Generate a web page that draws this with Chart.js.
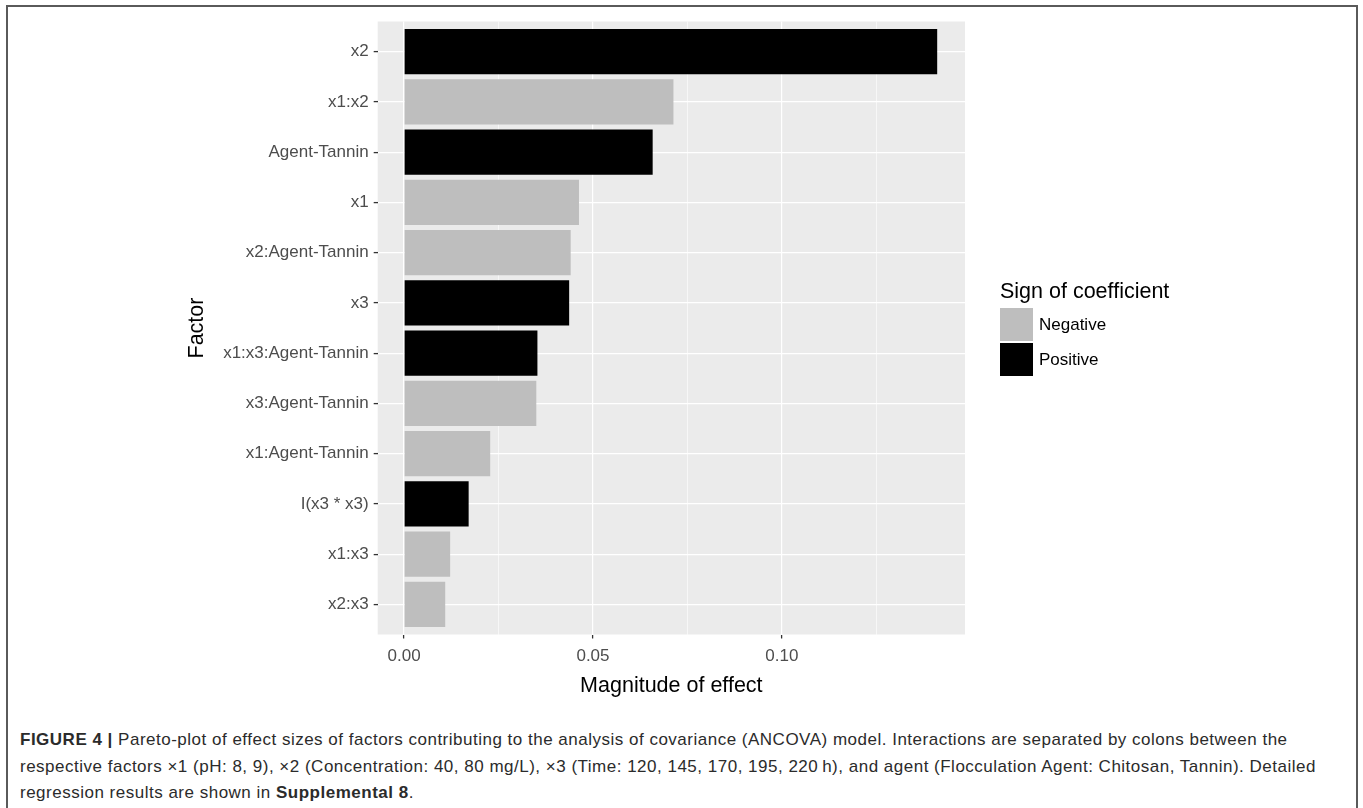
<!DOCTYPE html>
<html>
<head>
<meta charset="utf-8">
<script src="https://cdn.jsdelivr.net/npm/chart.js@4.4.1/dist/chart.umd.min.js"></script>
<style>
  body { margin: 0; background: #fff; }
  #wrap { position: relative; width: 1363px; height: 808px; overflow: hidden; }
  #frame {
    position: absolute; left: 6px; top: 5px; width: 1348px; height: 820px;
    border: 2px solid #5a5a5a; border-bottom: none;
  }
  #chart { position: absolute; left: 0; top: 0; }
  #caption {
    position: absolute; left: 20px; top: 727px;
    font-family: "Liberation Sans", Arial, sans-serif; font-size: 17px;
    letter-spacing: 0.5px; line-height: 26.5px; color: #2b2b2b; white-space: nowrap;
  }
</style>
</head>
<body>
<div id="wrap">
  <div id="frame"></div>
  <canvas id="chart" width="1363" height="710"></canvas>
  <div id="caption">
    <b>FIGURE 4 |</b> Pareto-plot of effect sizes of factors contributing to the analysis of covariance (ANCOVA) model. Interactions are separated by colons between the<br>
    respective factors ×1 (pH: 8, 9), ×2 (Concentration: 40, 80 mg/L), ×3 (Time: 120, 145, 170, 195, 220&thinsp;h), and agent (Flocculation Agent: Chitosan, Tannin). Detailed<br>
    regression results are shown in <b>Supplemental 8</b>.
  </div>
</div>
<script>
// datos del grafico
const factors = ['x2', 'x1:x2', 'Agent-Tannin', 'x1', 'x2:Agent-Tannin', 'x3',
  'x1:x3:Agent-Tannin', 'x3:Agent-Tannin', 'x1:Agent-Tannin', 'I(x3 * x3)', 'x1:x3', 'x2:x3'];
const magnitudes = [0.1411, 0.0713, 0.0658, 0.0463, 0.0441, 0.0437,
  0.0353, 0.0350, 0.0228, 0.0171, 0.0122, 0.0109];
const signs = ['Positive', 'Negative', 'Positive', 'Negative', 'Negative', 'Positive',
  'Positive', 'Negative', 'Negative', 'Positive', 'Negative', 'Negative'];
const signLevels = ['Negative', 'Positive'];
const signColors = ['#BEBEBE', '#000000'];
const xMajor = [0, 0.05, 0.10];
const xMinor = [0.025, 0.075, 0.125];
const xLimits = [-0.00697, 0.14846];

const FONT = '"Liberation Sans", Arial, sans-serif';
const CANVAS_H = 710;
const PANEL = { left: 377.7, top: 21.5, right: 965, bottom: 634.5 };

// fondo gris del panel (estilo ggplot)
const panelBackground = {
  id: 'panelBackground',
  beforeDraw(chart) {
    const { ctx, chartArea: a } = chart;
    ctx.save();
    ctx.fillStyle = '#EBEBEB';
    ctx.fillRect(a.left, a.top, a.right - a.left, a.bottom - a.top);
    ctx.restore();
  }
};

// leyenda a la derecha
const signLegend = {
  id: 'signLegend',
  afterDraw(chart) {
    const { ctx, chartArea: a } = chart;
    const left = a.right + 35;
    const cy = (a.top + a.bottom) / 2;
    const key = 33;
    ctx.save();
    ctx.textBaseline = 'middle';
    ctx.textAlign = 'left';
    ctx.fillStyle = '#000';
    ctx.font = '21.5px ' + FONT;
    ctx.fillText('Sign of coefficient', left, cy - 36);
    ctx.font = '17px ' + FONT;
    signLevels.forEach((lvl, i) => {
      const top = cy - 20 + i * (key + 2);
      ctx.fillStyle = signColors[i];
      ctx.fillRect(left, top, key, key);
      ctx.fillStyle = '#000';
      ctx.fillText(lvl, left + key + 6, top + key / 2 + 1);
    });
    ctx.restore();
  }
};

const ctx = document.getElementById('chart').getContext('2d');
new Chart(ctx, {
  type: 'bar',
  data: {
    datasets: [{
      data: factors.map((f, i) => ({ x: magnitudes[i], y: i })),
      backgroundColor: signs.map(s => signColors[signLevels.indexOf(s)]),
      borderWidth: 0,
      categoryPercentage: 1,
      barPercentage: 0.9
    }]
  },
  options: {
    indexAxis: 'y',
    responsive: false,
    animation: false,
    devicePixelRatio: 1,
    layout: {
      padding: { left: 0, top: PANEL.top, right: 1363 - PANEL.right, bottom: 0 }
    },
    plugins: {
      legend: { display: false },
      tooltip: { enabled: false }
    },
    scales: {
      x: {
        type: 'linear',
        min: xLimits[0],
        max: xLimits[1],
        afterBuildTicks(scale) {
          scale.ticks = xMajor.concat(xMinor).sort((a, b) => a - b).map(v => ({ value: v }));
        },
        afterFit(scale) { scale.height = CANVAS_H - PANEL.bottom; },
        border: { display: false },
        grid: {
          color: '#FFFFFF',
          lineWidth: c => xMajor.includes(c.tick.value) ? 1.2 : 0.6,
          tickColor: c => xMajor.includes(c.tick.value) ? '#333333' : 'rgba(0,0,0,0)',
          tickWidth: 1.3,
          tickLength: 4
        },
        ticks: {
          autoSkip: false,
          maxRotation: 0,
          padding: 8,
          color: '#4D4D4D',
          font: { family: FONT, size: 17 },
          callback: v => xMajor.includes(v) ? v.toFixed(2) : ''
        },
        title: {
          display: true,
          text: 'Magnitude of effect',
          color: '#000',
          font: { family: FONT, size: 21.5 },
          padding: { top: 0, bottom: 11 }
        }
      },
      y: {
        type: 'linear',
        reverse: true,
        offset: false,
        min: -0.6,
        max: factors.length - 0.4,
        afterBuildTicks(scale) {
          scale.ticks = factors.map((f, i) => ({ value: i }));
        },
        afterFit(scale) { scale.width = PANEL.left; },
        border: { display: false },
        grid: {
          offset: false,
          color: '#FFFFFF',
          lineWidth: 1.2,
          tickColor: '#333333',
          tickWidth: 1.3,
          tickLength: 4
        },
        ticks: {
          autoSkip: false,
          padding: 5,
          color: '#4D4D4D',
          font: { family: FONT, size: 17 },
          callback: v => factors[v]
        },
        title: {
          display: true,
          text: 'Factor',
          color: '#000',
          font: { family: FONT, size: 21.5 },
          padding: { top: 184, bottom: 0 }
        }
      }
    }
  },
  plugins: [panelBackground, signLegend]
});
</script>
</body>
</html>
